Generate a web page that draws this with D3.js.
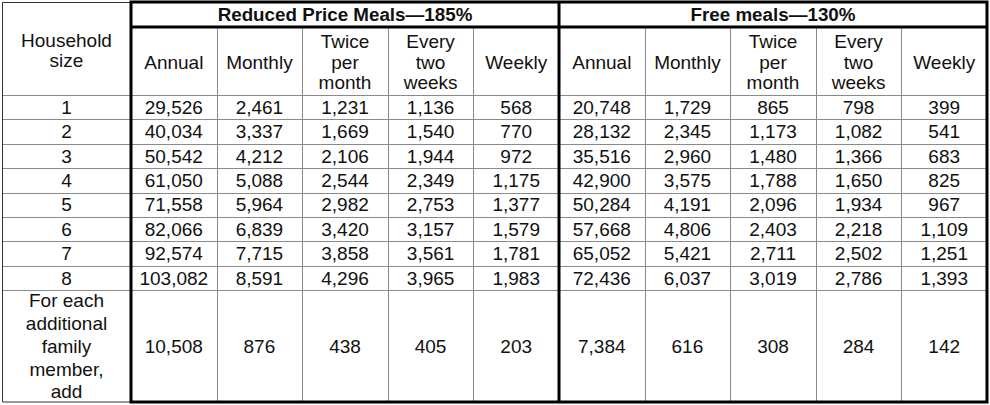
<!DOCTYPE html>
<html lang="en">
<head>
<meta charset="UTF-8">
<title>Income eligibility</title>
<script src="https://cdn.jsdelivr.net/npm/d3@7"></script>
<style>
  body { margin: 0; background: #fff; }
  svg { display: block; font-family: "Liberation Sans", Arial, sans-serif; }
  text { fill: #111; }
  .thin { stroke: #8a8a8a; stroke-width: 1px; }
  .edge { stroke: #333; stroke-width: 1px; }
  .thick { stroke: #000; stroke-width: 3px; fill: none; }
</style>
</head>
<body>
<svg width="990" height="405"></svg>
<script>
// data
let groups = ["Reduced Price Meals\u2014185%", "Free meals\u2014130%"];
let columns = [["Annual"], ["Monthly"], ["Twice", "per", "month"], ["Every", "two", "weeks"], ["Weekly"]];
let sizes = ["1", "2", "3", "4", "5", "6", "7", "8"];
let reduced = [
  [29526, 2461, 1231, 1136, 568],
  [40034, 3337, 1669, 1540, 770],
  [50542, 4212, 2106, 1944, 972],
  [61050, 5088, 2544, 2349, 1175],
  [71558, 5964, 2982, 2753, 1377],
  [82066, 6839, 3420, 3157, 1579],
  [92574, 7715, 3858, 3561, 1781],
  [103082, 8591, 4296, 3965, 1983]
];
let free = [
  [20748, 1729, 865, 798, 399],
  [28132, 2345, 1173, 1082, 541],
  [35516, 2960, 1480, 1366, 683],
  [42900, 3575, 1788, 1650, 825],
  [50284, 4191, 2096, 1934, 967],
  [57668, 4806, 2403, 2218, 1109],
  [65052, 5421, 2711, 2502, 1251],
  [72436, 6037, 3019, 2786, 1393]
];
let addLabel = ["For each", "additional", "family", "member,", "add"];
let reducedAdd = [10508, 876, 438, 405, 203];
let freeAdd = [7384, 616, 308, 284, 142];

let svg = d3.select("svg");
let fmt = d3.format(",");

// layout
let tLeft = 2, tTop = 2, tRight = 987, tBottom = 402;
let dataLeft = 131, groupHead = 27, colHead = 95, rowsEnd = 290;

let gx = d3.scaleBand().domain(groups).range([dataLeft, tRight]);
let cx = d3.scaleBand().domain(d3.range(columns.length)).range([0, gx.bandwidth()]);
let ry = d3.scaleBand().domain(sizes).range([colHead, rowsEnd]);

let lines = svg.append("g");
let texts = svg.append("g");

// thin row separators
let rowEdges = sizes.map(function (d) { return ry(d); }).concat([rowsEnd]);
lines.selectAll("line.row").data(rowEdges).join("line")
  .attr("class", "thin")
  .attr("x1", tLeft).attr("x2", tRight)
  .attr("y1", function (d) { return Math.round(d) + 0.5; })
  .attr("y2", function (d) { return Math.round(d) + 0.5; });

// thin column separators
groups.forEach(function (g) {
  lines.append("g").selectAll("line").data(d3.range(1, columns.length)).join("line")
    .attr("class", "thin")
    .attr("x1", function (i) { return Math.round(gx(g) + cx(i)) + 0.5; })
    .attr("x2", function (i) { return Math.round(gx(g) + cx(i)) + 0.5; })
    .attr("y1", groupHead).attr("y2", tBottom);
});

// outline of the household column
lines.append("path").attr("class", "edge").attr("fill", "none")
  .attr("d", d3.line()([[dataLeft, tTop + 0.5], [tLeft + 0.5, tTop + 0.5], [tLeft + 0.5, tBottom], [dataLeft, tBottom]]));

// thick frames
lines.append("rect").attr("class", "thick")
  .attr("x", dataLeft).attr("y", tTop).attr("width", tRight - dataLeft).attr("height", tBottom - tTop);
lines.append("line").attr("class", "thick")
  .attr("x1", gx(groups[1])).attr("x2", gx(groups[1])).attr("y1", tTop).attr("y2", tBottom);
lines.append("line").attr("class", "thick")
  .attr("x1", dataLeft).attr("x2", tRight).attr("y1", groupHead).attr("y2", groupHead);

// multi-line text helper
function stack(sel, x, yc, parts, lh) {
  let t = sel.append("text").attr("x", x).attr("text-anchor", "middle")
    .attr("font-size", 19);
  parts.forEach(function (p, i) {
    t.append("tspan").attr("x", x)
      .attr("y", yc + (i - (parts.length - 1) / 2) * lh + 6.8)
      .text(p);
  });
  return t;
}

// header column
stack(texts, (tLeft + dataLeft) / 2, 50, ["Household", "size"], 20.5);

// group headers
texts.selectAll("text.group").data(groups).join("text")
  .attr("class", "group")
  .attr("x", function (d) { return gx(d) + gx.bandwidth() / 2; })
  .attr("y", (tTop + groupHead) / 2 + 6.8)
  .attr("text-anchor", "middle")
  .attr("font-size", 18.8).attr("font-weight", "bold")
  .text(function (d) { return d; });

// column headers
groups.forEach(function (g) {
  columns.forEach(function (c, i) {
    stack(texts, gx(g) + cx(i) + cx.bandwidth() / 2, (groupHead + colHead) / 2 + 1, c, 20.5);
  });
});

// body values
let tables = [reduced, free];
let adds = [reducedAdd, freeAdd];
sizes.forEach(function (s, r) {
  stack(texts, (tLeft + dataLeft) / 2, ry(s) + ry.bandwidth() / 2, [s], 0);
  groups.forEach(function (g, k) {
    tables[k][r].forEach(function (v, i) {
      stack(texts, gx(g) + cx(i) + cx.bandwidth() / 2, ry(s) + ry.bandwidth() / 2, [fmt(v)], 0);
    });
  });
});

// additional member row
let addMid = (rowsEnd + tBottom) / 2;
stack(texts, (tLeft + dataLeft) / 2, addMid, addLabel, 22.7);
groups.forEach(function (g, k) {
  adds[k].forEach(function (v, i) {
    stack(texts, gx(g) + cx(i) + cx.bandwidth() / 2, addMid, [fmt(v)], 0);
  });
});
</script>
</body>
</html>
